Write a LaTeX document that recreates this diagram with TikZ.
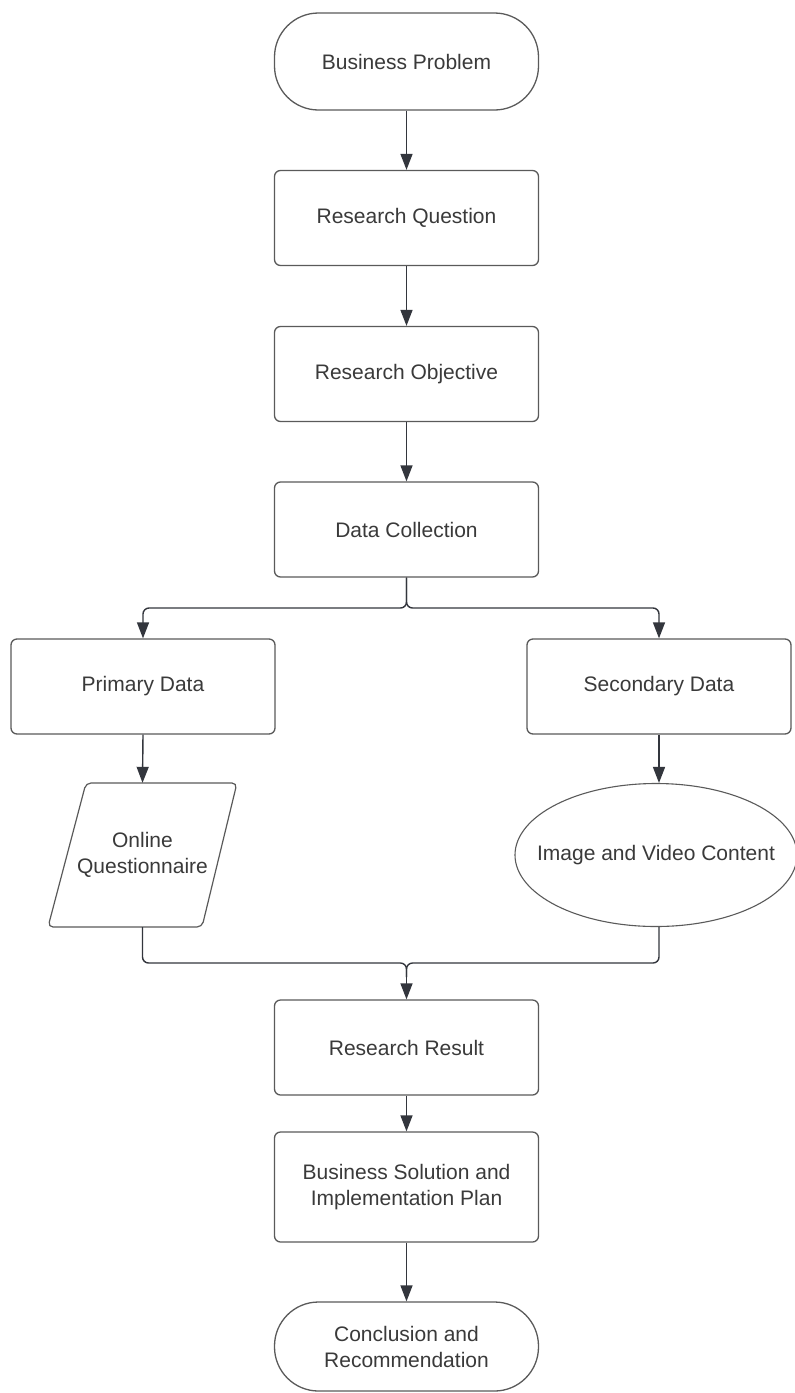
\documentclass[tikz,border=0pt]{standalone}
\usepackage{fontspec}
\setmainfont{Liberation Sans}
\usetikzlibrary{shapes.geometric,arrows.meta,calc}
\definecolor{edgecol}{HTML}{5A5A5A}
\definecolor{txtcol}{HTML}{3A3A3A}
\definecolor{arrcol}{HTML}{33363D}
\begin{document}
\begin{tikzpicture}[x=1pt,y=-1pt,
  every node/.style={font=\fontsize{21}{26}\selectfont, text=txtcol, align=center, inner sep=0pt},
  procbox/.style={draw=edgecol, line width=1.3pt, rounded corners=6pt, minimum width=264pt, minimum height=95pt},
  termbox/.style={draw=edgecol, line width=1.3pt, rounded corners=44pt, minimum width=264pt},
  ovalbox/.style={draw=edgecol, line width=1.1pt, ellipse, minimum width=282pt, minimum height=143pt},
  conn/.style={draw=arrcol, line width=1.4pt, -{Triangle[width=12pt,length=16pt]}},
  link/.style={draw=arrcol, line width=1.4pt, rounded corners=6pt}]
\useasboundingbox (0,0) rectangle (795,1393);
\fill[white] (0,0) rectangle (795,1393);

\node[termbox, minimum height=97pt] (bp) at (406.5,61.5) {Business Problem};
\node[procbox] (rq) at (406.5,218) {Research Question};
\node[procbox] (ro) at (406.5,374) {Research Objective};
\node[procbox] (dc) at (406.5,529.5) {Data Collection};
\node[procbox] (pd) at (143,686.5) {Primary Data};
\node[procbox] (sd) at (659,686.5) {Secondary Data};
\draw[edgecol, line width=1.2pt, rounded corners=5pt]
  (86,783) -- (237,783) -- (202,927) -- (48,927) -- cycle;
\node[minimum height=144pt, minimum width=10pt] (oq) at (142.5,855) {Online\\Questionnaire};
\node[ovalbox] (iv) at (656,855) {};
\node (ivt) at (iv.center) {Image and Video Content};
\node[procbox] (rr) at (406.5,1047.5) {Research Result};
\node[procbox, minimum height=110pt] (bs) at (406.5,1187) {Business Solution and\\Implementation Plan};
\node[termbox, minimum height=89pt] (cr) at (406.5,1346.5) {Conclusion and\\Recommendation};

\coordinate (sj) at (406.5,608);
\coordinate (mj) at (406.5,963);

\draw[conn] (bp) -- (rq);
\draw[conn] (rq) -- (ro);
\draw[conn] (ro) -- (dc);
\draw[link] (dc.south) -- (sj) -| ($(pd.north)+(0,-12)$);
\draw[link] (dc.south) -- (sj) -| ($(sd.north)+(0,-12)$);
\draw[conn] ($(pd.north)+(0,-14)$) -- (pd.north);
\draw[conn] ($(sd.north)+(0,-14)$) -- (sd.north);
\draw[conn] (pd.south) -- (oq.north);
\draw[conn] (sd.south) -- (sd.south |- iv.north);
\draw[link] (oq.south) |- (mj) -- ($(mj)+(0,14)$);
\draw[link] (iv.south -| sd.south) |- (mj) -- ($(mj)+(0,14)$);
\draw[conn] ($(mj)+(0,12)$) -- (rr.north);
\draw[conn] (rr) -- (bs);
\draw[conn] (bs) -- (cr);
\end{tikzpicture}
\end{document}
